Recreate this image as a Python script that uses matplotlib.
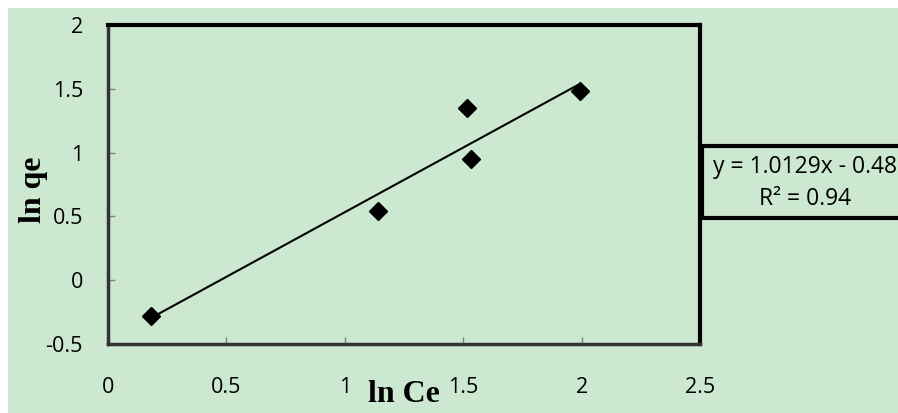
import numpy as np
import matplotlib
matplotlib.use("Agg")
import matplotlib.pyplot as plt
from matplotlib.patches import Rectangle

# -------------------------------------------------------------------------
# DATA
# -------------------------------------------------------------------------
ln_ce = [0.18, 1.14, 1.515, 1.535, 1.995]
ln_qe = [-0.28, 0.54, 1.35, 0.95, 1.485]

slope = 1.0129
intercept = -0.48
r_squared = 0.94

x_ticks = [0, 0.5, 1, 1.5, 2, 2.5]
x_tick_labels = ["0", "0.5", "1", "1.5", "2", "2.5"]
y_ticks = [-0.5, 0, 0.5, 1, 1.5, 2]
y_tick_labels = ["-0.5", "0", "0.5", "1", "1.5", "2"]

# -------------------------------------------------------------------------
# STYLE
# -------------------------------------------------------------------------
W, H = 898, 413
bg = "#CDE8D0"
plt.rcParams["font.family"] = ["Open Sans", "DejaVu Sans"]

fig = plt.figure(figsize=(W / 100, H / 100), dpi=100, facecolor="white")

# green chart area (white strip on top / left)
fig.patches.append(Rectangle((8 / W, 0), 1, (H - 8) / H, transform=fig.transFigure,
                             facecolor=bg, edgecolor="none", zorder=-1))

ax = fig.add_axes([108 / W, (H - 344) / H, 592 / W, 319 / H])
ax.set_zorder(1)
ax.set_facecolor(bg)

# -------------------------------------------------------------------------
# PLOT
# -------------------------------------------------------------------------
x_fit = np.array([min(ln_ce), max(ln_ce)])
ax.plot(x_fit, slope * x_fit + intercept, color="black", lw=1.5, zorder=2)
ax.plot(ln_ce, ln_qe, linestyle="none", marker="D", ms=9.5, color="black", zorder=3)

ax.set_xlim(0, 2.5)
ax.set_ylim(-0.5, 2)
ax.set_xticks(x_ticks, x_tick_labels)
ax.set_yticks(y_ticks, y_tick_labels)
ax.tick_params(direction="in", length=5, width=1, color="#808080",
               labelsize=15.5, labelcolor="black")
ax.tick_params(axis="x", pad=24)
ax.tick_params(axis="y", pad=18)

for s in ["top", "right"]:
    ax.spines[s].set_linewidth(3)
    ax.spines[s].set_color("black")
for s in ["left", "bottom"]:
    ax.spines[s].set_linewidth(2.5)
    ax.spines[s].set_color("#333333")

# axis titles
fig.text(404 / W, 1 - 395 / H, "ln Ce", family="Liberation Serif", fontweight="bold",
         fontsize=23, ha="center", va="center", zorder=3)
fig.text(33 / W, 1 - 190 / H, "ln qe", family="Liberation Serif", fontweight="bold",
         fontsize=23, ha="center", va="center", rotation=90, zorder=3)

# trendline label box
fig.patches.append(Rectangle((702 / W, 1 - 218 / H), 300 / W, 72 / H,
                             transform=fig.transFigure, facecolor=bg,
                             edgecolor="black", lw=3, zorder=2))
fig.text(805 / W, 1 - 167 / H, f"y = {slope:.4f}x - {abs(intercept):.2f}",
         fontsize=16.5, ha="center", va="center", zorder=3)
fig.text(805 / W, 1 - 199 / H, f"R² = {r_squared:.2f}",
         fontsize=16.5, ha="center", va="center", zorder=3)

fig.savefig("out.png", dpi=100, facecolor="white")
